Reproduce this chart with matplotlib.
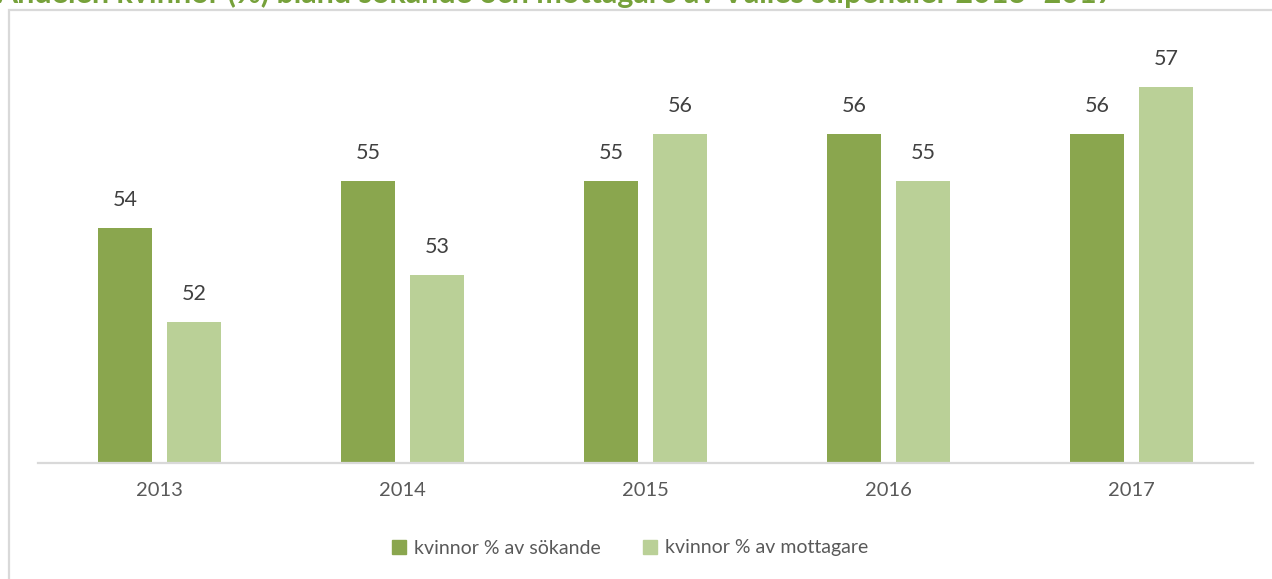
import matplotlib.pyplot as plt
import numpy as np
from matplotlib.patches import Rectangle, Patch

years = ["2013", "2014", "2015", "2016", "2017"]
sokande = [54, 55, 55, 56, 56]
mottagare = [52, 53, 56, 55, 57]

dark = "#8aa64e"
light = "#bad097"
title_green = "#76a13a"

plt.rcParams["font.family"] = ["Lato", "DejaVu Sans"]

W, H = 1272, 579
fig = plt.figure(figsize=(W / 100, H / 100), dpi=100)

# outer chart frame (runs off the right and bottom edges)
fig.patches.append(Rectangle((9 / W, -0.05), 1.1, 1 - 9.5 / H + 0.05,
                             transform=fig.transFigure, fill=False,
                             edgecolor="#d9d9d9", linewidth=1.6))

# heading sits above the frame, only its lower part is inside the image
fig.text(-4 / W, 1 - 3 / H,
         "Andelen kvinnor (%) bland sökande och mottagare av Valles stipendier 2013–2017",
         color=title_green, fontsize=22, fontweight="bold", ha="left", va="baseline")

ax = fig.add_axes([38 / W, 1 - 463 / H, 1215 / W, 423 / H])
x = np.arange(len(years))
bw = 0.226
gap = 0.058
b1 = ax.bar(x - (bw + gap) / 2, sokande, bw, color=dark)
b2 = ax.bar(x + (bw + gap) / 2, mottagare, bw, color=light)

ax.set_ylim(49, 58)
ax.set_xlim(-0.5, len(years) - 0.5)

for bars, vals in ((b1, sokande), (b2, mottagare)):
    for b, v in zip(bars, vals):
        ax.annotate(str(v), (b.get_x() + b.get_width() / 2, v),
                    xytext=(0, 13), textcoords="offset points",
                    ha="center", va="bottom", fontsize=15.5, color="#404040")

for s in ("top", "right", "left"):
    ax.spines[s].set_visible(False)
ax.spines["bottom"].set_color("#d9d9d9")
ax.spines["bottom"].set_linewidth(1.6)
ax.set_yticks([])
ax.set_xticks(x)
ax.set_xticklabels(years, fontsize=14.5, color="#595959")
ax.tick_params(axis="x", length=0, pad=14)

handles = [Patch(color=dark, label="kvinnor % av sökande"),
           Patch(color=light, label="kvinnor % av mottagare")]
fig.legend(handles=handles, loc="center", bbox_to_anchor=(630 / W, 1 - 548 / H),
           ncol=2, frameon=False, fontsize=14, handlelength=0.7, handleheight=0.7,
           handletextpad=0.4, columnspacing=2.2, labelcolor="#595959")

fig.savefig("out.png", dpi=100)
